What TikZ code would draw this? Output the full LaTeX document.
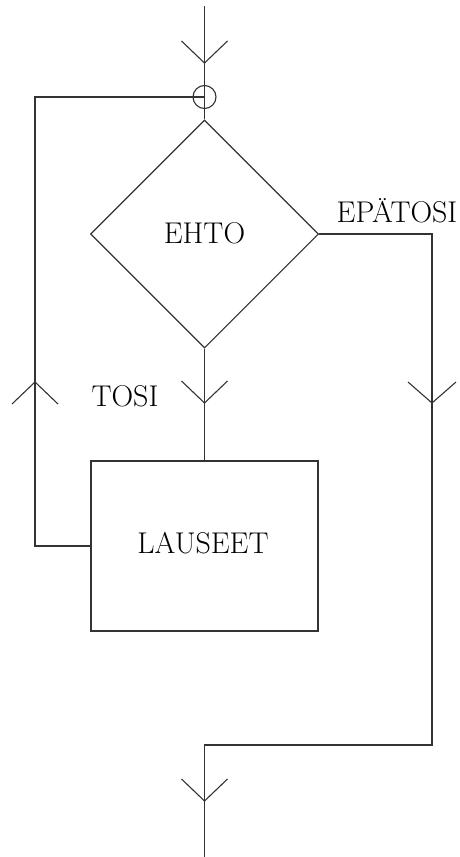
\documentclass[tikz,border=0pt]{standalone}
\usetikzlibrary{shapes.geometric}
\begin{document}
\begin{tikzpicture}[x=1pt,y=-1pt,
  line/.style={line width=1.1pt,draw=black!80},
  lbl/.style={font=\fontsize{30}{34}\selectfont,inner sep=0pt},
  vhead/.style={line width=1.1pt,draw=black!80},
  decision/.style={diamond,draw=black!80,line width=1.1pt,minimum width=228pt,minimum height=228pt,inner sep=0pt,aspect=1},
  stmt/.style={rectangle,draw=black!80,line width=1.4pt,minimum width=227pt,minimum height=170pt,inner sep=0pt},
  joint/.style={circle,draw=black!80,line width=1.1pt,minimum size=23pt,inner sep=0pt}]
\useasboundingbox (0,0) rectangle (460,857);
% nodes
\node[decision] (ehto) at (204.5,234) {};
\node[lbl] (ehtot) at (204.5,233) {EHTO};
\node[stmt] (lauseet) at (204.5,546) {};
\node[lbl,anchor=base] (lauseett) at (203,553) {LAUSEET};
\node[joint] (j) at (204.5,97) {};
\node[lbl,anchor=base] (epa) at (397,222) {EP\"ATOSI};
\node[lbl,anchor=base] (tosi) at (125,406) {TOSI};
% coordinates
\coordinate (top) at (204.5,6);
\coordinate (rtop) at (432,234);
\coordinate (rbot) at (432,745);
\coordinate (mbot) at (204.5,745);
\coordinate (bot) at (204.5,857);
\coordinate (lbot) at (35,546);
\coordinate (ltop) at (35,97);
% connectors
\draw[line] (top) -- (j.center);
\draw[line] (j.north) -- (j.south) -- (ehto.north);
\draw[line] (ehto.east) -- (rtop) -- (rbot) -- (mbot) -- (bot);
\draw[line] (ehto.south) -- (lauseet.north);
\draw[line] (lauseet.west) -- (lbot) -- (ltop) -- (j.center);
% arrowheads (open V)
\draw[vhead] (181.5,41) -- (204.5,63) -- (227.5,41);
\draw[vhead] (181.5,381) -- (204.5,403) -- (227.5,381);
\draw[vhead] (408,382) -- (432,403) -- (456,382);
\draw[vhead] (12,404) -- (35,382) -- (58,404);
\draw[vhead] (181.5,779) -- (204.5,801) -- (227.5,779);
\end{tikzpicture}
\end{document}
